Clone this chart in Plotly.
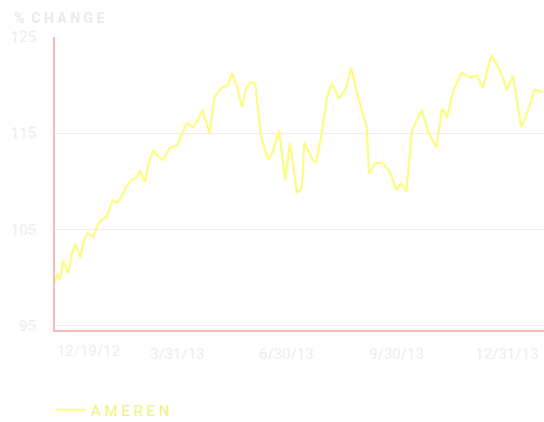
import plotly.graph_objects as go

dates = [
    "2012-12-19", "2012-12-21", "2012-12-23", "2012-12-26", "2012-12-30",
    "2013-01-02", "2013-01-05", "2013-01-09", "2013-01-12", "2013-01-15",
    "2013-01-20", "2013-01-23", "2013-01-26", "2013-01-31", "2013-02-05",
    "2013-02-09", "2013-02-13", "2013-02-16", "2013-02-20", "2013-02-25",
    "2013-02-28", "2013-03-04", "2013-03-07", "2013-03-11", "2013-03-15",
    "2013-03-19", "2013-03-25", "2013-03-31", "2013-04-05", "2013-04-08",
    "2013-04-13", "2013-04-17", "2013-04-21", "2013-04-27", "2013-05-01",
    "2013-05-07", "2013-05-12", "2013-05-16", "2013-05-20", "2013-05-24",
    "2013-05-27", "2013-05-31", "2013-06-04", "2013-06-09", "2013-06-15",
    "2013-06-19", "2013-06-24", "2013-06-29", "2013-07-03", "2013-07-09",
    "2013-07-13", "2013-07-15", "2013-07-22", "2013-07-25", "2013-07-29",
    "2013-08-03", "2013-08-07", "2013-08-13", "2013-08-19", "2013-08-23",
    "2013-08-28", "2013-09-02", "2013-09-05", "2013-09-07", "2013-09-12",
    "2013-09-18", "2013-09-24", "2013-09-30", "2013-10-04", "2013-10-08",
    "2013-10-13", "2013-10-21", "2013-10-26", "2013-11-02", "2013-11-07",
    "2013-11-11", "2013-11-16", "2013-11-23", "2013-11-30", "2013-12-06",
    "2013-12-11", "2013-12-18", "2013-12-25", "2013-12-31", "2014-01-05",
    "2014-01-12", "2014-01-17", "2014-01-23", "2014-01-30",
]

ameren = [
    99.5, 100.4, 99.8, 101.8, 100.4,
    102.5, 103.5, 102.1, 103.8, 104.6,
    104.2, 105.3, 105.9, 106.3, 108.0,
    107.8, 108.5, 109.3, 110.1, 110.4,
    111.1, 109.9, 111.8, 113.2, 112.6,
    112.2, 113.5, 113.75, 115.3, 116.1,
    115.6, 116.3, 117.4, 115.0, 118.75,
    119.7, 120.0, 121.25, 119.8, 117.7,
    119.5, 120.3, 120.2, 114.6, 112.2,
    113.2, 115.3, 110.1, 114.0, 108.75,
    109.4, 114.0, 112.2, 112.0, 114.6,
    118.75, 120.2, 118.6, 119.7, 121.8,
    119.2, 117.0, 115.6, 110.8, 111.9,
    111.9, 111.1, 109.1, 109.8, 108.9,
    115.3, 117.4, 115.3, 113.5, 117.6,
    116.6, 119.3, 121.25, 120.8, 121.0,
    119.7, 123.1, 121.6, 119.5, 121.0,
    115.6, 117.1, 119.5, 119.3,
]

x_tick_vals = ["2012-12-19", "2013-03-31", "2013-06-30", "2013-09-30", "2013-12-31"]
x_tick_text = ["12/19/12", "3/31/13", "6/30/13", "9/30/13", "12/31/13"]
y_tick_vals = [95, 105, 115, 125]

FONT = "Liberation Sans Narrow, Arial Narrow, Roboto, sans-serif"
TEXT = "#f0ebeb"
AXIS = "#f8b9b9"
GRID = "#f6e9e9"
LINE = "#fcfc82"

fig = go.Figure()
fig.add_trace(go.Scatter(
    x=dates, y=ameren, mode="lines", name="A M E R E N",
    line=dict(color=LINE, width=2.2),
))

fig.update_layout(
    width=544, height=422,
    margin=dict(l=55, r=0, t=37, b=92, autoexpand=False),
    paper_bgcolor="white", plot_bgcolor="white",
    font=dict(family=FONT, size=14, color=TEXT),
    showlegend=True,
    legend=dict(
        orientation="h", x=-0.008, xanchor="left", y=-0.273, yanchor="middle",
        font=dict(family=FONT, size=15, color="#f2f27a"),
        itemwidth=30,
    ),
    annotations=[
        dict(
            text="<b>%  C H A N G E</b>", xref="paper", yref="paper",
            x=-0.088, y=1.065, xanchor="left", yanchor="middle",
            showarrow=False, font=dict(family=FONT, size=14, color="#ecebeb"),
        ),
        # first x tick label is drawn left-aligned at the axis start, as in the original
        dict(
            text=x_tick_text[0], xref="x", yref="paper",
            x=x_tick_vals[0], y=-0.072, xanchor="left", yanchor="middle",
            showarrow=False, font=dict(family=FONT, size=15, color="#f1ecec"),
        ),
    ],
)

fig.update_xaxes(
    type="date", range=["2012-12-19", "2014-01-31"],
    tickvals=x_tick_vals[1:], ticktext=x_tick_text[1:],
    showgrid=False, showline=True, linecolor=AXIS, linewidth=2,
    ticks="", ticklabelstandoff=9, zeroline=False,
    tickfont=dict(family=FONT, size=15, color=TEXT),
)
fig.update_yaxes(
    range=[94.55, 125], tickvals=y_tick_vals,
    showgrid=True, gridcolor=GRID, gridwidth=1,
    showline=True, linecolor=AXIS, linewidth=2,
    ticks="", ticklabelstandoff=14, zeroline=False,
    tickfont=dict(family=FONT, size=15, color=TEXT),
)

fig.write_html(
    "out.html",
    config={"displayModeBar": False},
    post_script="document.body.style.margin='0';document.body.style.overflow='hidden';",
)
